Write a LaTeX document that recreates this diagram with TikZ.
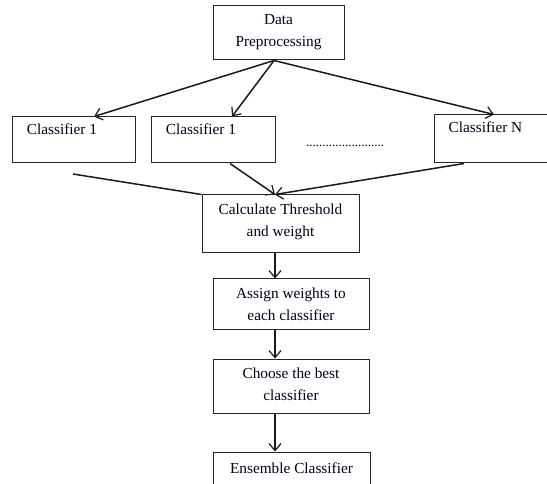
\documentclass[tikz,border=0pt]{standalone}
\usepackage{fontspec}
\setmainfont{Liberation Serif}
\usetikzlibrary{arrows.meta,calc}
\begin{document}
\begin{tikzpicture}[x=1pt,y=-1pt,
  box/.style={draw=black!85,line width=1pt,rectangle,inner sep=0pt},
  txt/.style={font=\fontsize{15.3}{22}\selectfont,align=center,inner sep=0pt,text=black!90!blue},
  conn/.style={line width=1.5pt,draw=black!90},
  arr/.style={conn,-{Straight Barb[length=7pt,width=12pt,line width=1.2pt]}}]
\useasboundingbox (0,0) rectangle (547,484);
\clip (0,0) rectangle (547,484);
% boxes
\node[box,minimum width=131,minimum height=54] (dp) at (278.5,33) {};
\node[box,minimum width=123,minimum height=46] (c1) at (73.5,140) {};
\node[box,minimum width=124,minimum height=46] (c2) at (213,140) {};
\node[box,minimum width=130,minimum height=48] (cN) at (499,139) {};
\node[box,minimum width=157,minimum height=58] (calc) at (280.5,224) {};
\node[box,minimum width=156,minimum height=50] (assign) at (291,304) {};
\node[box,minimum width=156,minimum height=54] (choose) at (291,386) {};
\node[box,minimum width=157,minimum height=60] (ens) at (291.5,482) {};
% texts
\node[txt] (tdp) at (278.5,32.5) {Data\\Preprocessing};
\node[txt] (tc1) at (62,129) {Classifier 1};
\node[txt] (tc2) at (201,129) {Classifier 1};
\node[txt] (tcN) at (485.5,127) {Classifier N};
\node[txt,font=\fontsize{13}{16}\selectfont] (tdots) at (345,146) {........................};
\node[txt] (tcalc) at (280.5,221.5) {Calculate Threshold\\and weight};
\node[txt] (tassign) at (291,304.5) {Assign weights to\\each classifier};
\node[txt] (tchoose) at (291,384.5) {Choose the best\\classifier};
\node[txt] (tens) at (291.5,468) {Ensemble Classifier};
% connector anchors
\coordinate (dpo) at (dp.south -| 274,0);
\coordinate (c1in) at (c1.north -| 94,0);
\coordinate (c2in) at (c2.north -| 232,0);
\coordinate (cNin) at (cN.north -| 494,0);
\coordinate (c2out) at (c2.south -| 230,0);
\coordinate (cNout) at (cN.south -| 464,0);
\coordinate (calcin) at (calc.north -| 275,0);
\coordinate (lfree) at (73,174);
% connectors
\draw[arr] (dpo) -- (c1in);
\draw[arr] (dpo) -- (c2in);
\draw[arr] (dpo) -- (cNin);
\draw[arr] (c2out) -- (calcin);
\draw[arr] (cNout) -- (calcin);
\draw[conn] (lfree) -- (calc.north west);
\draw[arr] (calc.south -| 275,0) -- (assign.north -| 275,0);
\draw[arr] (assign.south -| 275,0) -- (choose.north -| 275,0);
\draw[arr] (choose.south -| 275,0) -- (ens.north -| 275,0);
\end{tikzpicture}
\end{document}
